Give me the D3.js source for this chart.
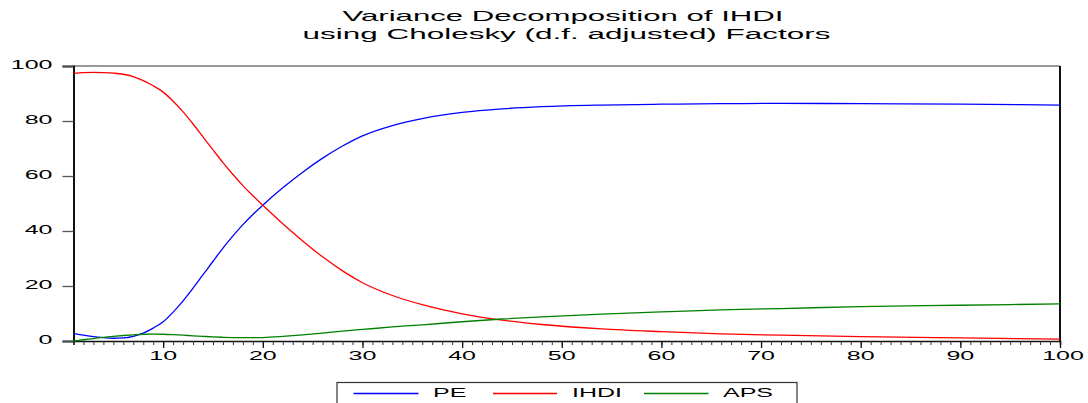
<!DOCTYPE html>
<html><head><meta charset="utf-8">
<script src="https://cdn.jsdelivr.net/npm/d3@7"></script>
<style>
html,body{margin:0;padding:0;background:#fff;}
text{font-family:"Liberation Sans",Arial,sans-serif;fill:#000;}
</style></head>
<body>
<svg id="chart" width="1088" height="403"></svg>
<script>
// ---- data ----
const periods = [1,2,3,4,5,6,7,8,9,10,11,12,13,14,15,16,17,18,19,20,22,24,26,28,30,33,36,40,44,48,54,60,66,72,80,90,100];
const pe   = [2.8,2.1,1.6,1.25,1.0,1.1,1.7,2.9,4.7,7.0,10.5,14.6,19.2,24.1,29.0,33.8,38.2,42.3,46.0,49.4,55.7,61.4,66.5,70.9,74.6,78.35,80.9,83.1,84.4,85.2,85.8,86.1,86.3,86.4,86.3,86.1,85.8];
const ihdi = [97.3,97.6,97.7,97.6,97.4,97.0,96.1,94.65,92.8,90.5,87.2,83.3,78.9,74.2,69.5,64.85,60.55,56.5,52.8,49.35,42.65,36.4,30.6,25.5,21.2,16.55,13.2,9.9,7.6,6.0,4.4,3.4,2.6,2.1,1.6,1.1,0.7];
const aps  = [0.0,0.45,0.9,1.35,1.7,2.0,2.25,2.45,2.5,2.45,2.3,2.1,1.9,1.7,1.5,1.35,1.25,1.2,1.2,1.25,1.65,2.2,2.9,3.6,4.2,5.1,5.9,7.0,8.0,8.8,9.8,10.6,11.3,11.8,12.5,13.0,13.5];
const seriesNames = ["PE","IHDI","APS"];
const seriesColors = ["#0000ff","#ff0000","#008000"];
const yTicks = [0,20,40,60,80,100];
const xMajorTicks = [10,20,30,40,50,60,70,80,90,100];
const titleLines = ["Variance Decomposition of IHDI","using Cholesky (d.f. adjusted) Factors"];

// ---- layout ----
const SX = 2.0;
const svg = d3.select("#chart");
const L = 73.5, R = 1060, T = 66, B = 341;
const x = d3.scaleLinear().domain([1,100]).range([L,R]);
const y = d3.scaleLinear().domain([0,100]).range([B,T]);

function sText(parent, px, py, str, size, anchor, sx){
  const g = parent.append("g").attr("transform",`translate(${px},${py}) scale(${sx||SX},1)`);
  g.append("text").attr("text-anchor",anchor).attr("x",0).attr("y",0)
    .style("font-size",size+"px").style("fill","#000").text(str);
  return g;
}

// title
sText(svg, 563, 21, titleLines[0], 14.5, "middle", 2.15);
sText(svg, 566.5, 38.5, titleLines[1], 14.5, "middle", 2.17);

// frame top / right
svg.append("line").attr("x1",L).attr("x2",R).attr("y1",T).attr("y2",T).style("stroke","#777").style("stroke-width",1.5);
svg.append("line").attr("x1",R).attr("x2",R).attr("y1",T).attr("y2",B).style("stroke","#111").style("stroke-width",2);

// y axis (ticks by d3, labels drawn stretched)
const yAxis = svg.append("g").attr("transform",`translate(${L},0)`)
  .call(d3.axisLeft(y).tickValues(yTicks).tickSize(11).tickFormat(""));
yAxis.select(".domain").style("stroke","#111").style("stroke-width",2);
yAxis.selectAll(".tick line").style("stroke","#555").style("stroke-width",1.3);
const yLab = svg.append("g");
yTicks.forEach(v => sText(yLab, 52.5, y(v) + 2.5, d3.format("d")(v), 12.5, "end"));

// x axis minor
const xMinor = svg.append("g").attr("transform",`translate(0,${B})`)
  .call(d3.axisBottom(x).tickValues(d3.range(1,101)).tickSize(4).tickFormat(""));
xMinor.select(".domain").style("stroke","#111").style("stroke-width",1.5);
xMinor.selectAll(".tick line").style("stroke","#333");
// x axis major
const xMajor = svg.append("g").attr("transform",`translate(0,${B})`)
  .call(d3.axisBottom(x).tickValues(xMajorTicks).tickSize(7).tickFormat(""));
xMajor.select(".domain").remove();
xMajor.selectAll(".tick line").style("stroke","#111").style("stroke-width",1.3);
const xLab = svg.append("g");
xMajorTicks.forEach(v => sText(xLab, x(v) + (v===100?3:0), 359.5, d3.format("d")(v), 12.5, "middle"));

// lines
const seriesData = [pe, ihdi, aps];
const line = d3.line().x((d,i)=>x(periods[i])).y(d=>y(d)).curve(d3.curveMonotoneX);
seriesData.forEach((s,k)=>{
  svg.append("path").datum(s).attr("d",line).style("fill","none")
    .style("stroke",seriesColors[k]).style("stroke-width",1.3);
});

// legend
const lg = svg.append("g");
lg.append("rect").attr("x",337).attr("y",382.5).attr("width",460).attr("height",40)
  .style("fill","none").style("stroke","#333").style("stroke-width",1.2);
const legX = [[353.5,418.5,433],[493,557,572],[644,708.5,723]];
seriesNames.forEach((n,k)=>{
  lg.append("path").attr("d",`M${legX[k][0]},393.5H${legX[k][1]}`)
    .style("fill","none").style("stroke",seriesColors[k]).style("stroke-width",1.3);
  sText(lg, legX[k][2], 396.5, n, 12.5, "start");
});
</script>
</body></html>
